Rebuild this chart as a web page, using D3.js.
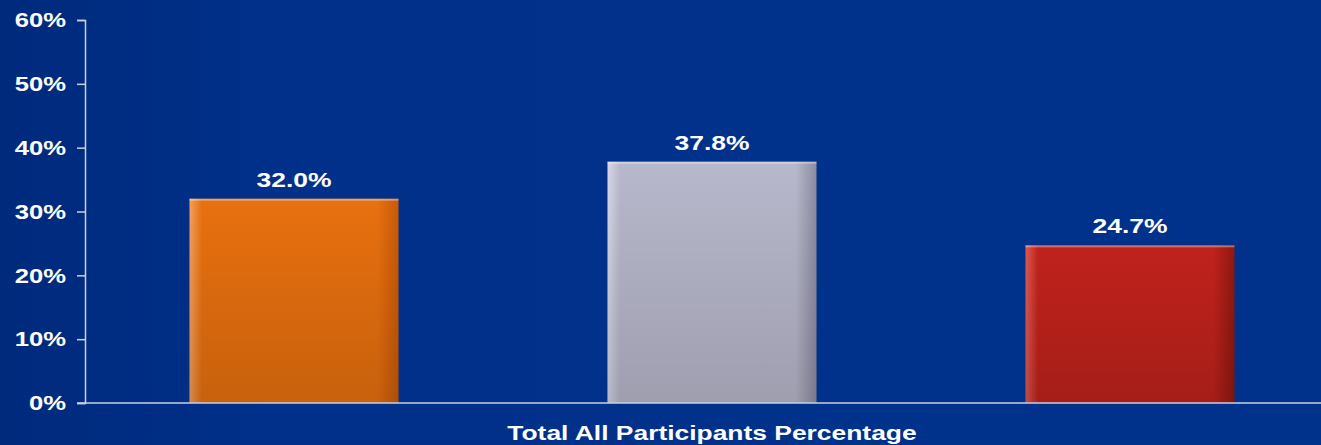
<!DOCTYPE html>
<html>
<head>
<meta charset="utf-8">
<script src="https://cdn.jsdelivr.net/npm/d3@7"></script>
<style>
  html, body { margin: 0; padding: 0; background: #00308a; }
  svg { display: block; }
  text { font-family: "Liberation Sans", Arial, sans-serif; font-weight: bold; fill: #fff; }
</style>
</head>
<body>
<div id="chart"></div>
<script>
// Data
const categories = ["Group A", "Group B", "Group C"];
const values = [32.0, 37.8, 24.7];
const yTicks = [0, 10, 20, 30, 40, 50, 60];
const xTitle = "Total All Participants Percentage";

// Bar colour stops: [left highlight, body, right shade]
const barColors = [
  ["#f5a05a", "#e8700f", "#c85a08"],
  ["#d8d8e8", "#b8b8cc", "#8c8ca0"],
  ["#dd5a50", "#c0221c", "#8e1810"]
];

const W = 1321, H = 445;
const margin = { top: 20, right: 0, bottom: 42, left: 85 };
const height = H - margin.top - margin.bottom;

const svg = d3.select("#chart").append("svg")
  .attr("width", W).attr("height", H);

// the source text is a horizontally stretched bold sans
function stretch(sel, k) {
  sel.each(function () {
    const w = this.getComputedTextLength();
    d3.select(this).attr("textLength", w * k).attr("lengthAdjust", "spacingAndGlyphs");
  });
}

// Background gradient
const defs = svg.append("defs");
const bg = defs.append("linearGradient").attr("id", "bg")
  .attr("x1", 0).attr("x2", 1).attr("y1", 0).attr("y2", 0);
bg.append("stop").attr("offset", "0%").attr("stop-color", "#002a7c");
bg.append("stop").attr("offset", "20%").attr("stop-color", "#00308a");
bg.append("stop").attr("offset", "100%").attr("stop-color", "#00328c");
svg.append("rect").attr("width", W).attr("height", H).attr("fill", "url(#bg)");

barColors.forEach((c, i) => {
  const g = defs.append("linearGradient").attr("id", "bar" + i)
    .attr("x1", 0).attr("x2", 1).attr("y1", 0).attr("y2", 0);
  g.append("stop").attr("offset", "0%").attr("stop-color", c[0]);
  g.append("stop").attr("offset", "6%").attr("stop-color", c[1]);
  g.append("stop").attr("offset", "90%").attr("stop-color", c[1]);
  g.append("stop").attr("offset", "100%").attr("stop-color", c[2]);
});
// vertical shade laid over the bars
const shade = defs.append("linearGradient").attr("id", "shade")
  .attr("x1", 0).attr("x2", 0).attr("y1", 0).attr("y2", 1);
shade.append("stop").attr("offset", "0%").attr("stop-color", "#000").attr("stop-opacity", 0);
shade.append("stop").attr("offset", "100%").attr("stop-color", "#000").attr("stop-opacity", 0.14);

const y = d3.scaleLinear().domain([0, 60]).range([margin.top + height, margin.top]);
const x = d3.scaleBand().domain(categories)
  .range([margin.left, margin.left + 1254])
  .paddingInner(0.5).paddingOuter(0.25);

// Y axis
const yAxis = svg.append("g")
  .attr("transform", `translate(${margin.left},0)`)
  .call(d3.axisLeft(y).tickValues(yTicks).tickFormat(d => d + "%").tickSize(8).tickPadding(11));
yAxis.select(".domain").attr("stroke", "#c8d0e4").attr("stroke-width", 1.5);
yAxis.selectAll(".tick line").attr("stroke", "#c8d0e4").attr("stroke-width", 1.5);
yAxis.selectAll(".tick text").style("font-size", "21px").attr("fill", "#fff").call(stretch, 1.22);

// Bars
svg.selectAll("rect.bar").data(values).enter().append("rect")
  .attr("class", "bar")
  .attr("x", (d, i) => x(categories[i]))
  .attr("y", d => y(d))
  .attr("width", x.bandwidth())
  .attr("height", d => y(0) - y(d))
  .attr("fill", (d, i) => `url(#bar${i})`);

svg.selectAll("rect.shade").data(values).enter().append("rect")
  .attr("class", "shade")
  .attr("x", (d, i) => x(categories[i]))
  .attr("y", d => y(d))
  .attr("width", x.bandwidth())
  .attr("height", d => y(0) - y(d))
  .attr("fill", "url(#shade)");

// top highlight edge
svg.selectAll("rect.edge").data(values).enter().append("rect")
  .attr("class", "edge")
  .attr("x", (d, i) => x(categories[i]))
  .attr("y", d => y(d))
  .attr("width", x.bandwidth())
  .attr("height", 2)
  .attr("fill", "#fff").attr("opacity", 0.35);

// Value labels
svg.selectAll("text.val").data(values).enter().append("text")
  .attr("class", "val")
  .attr("x", (d, i) => x(categories[i]) + x.bandwidth() / 2)
  .attr("y", d => y(d) - 12)
  .attr("text-anchor", "middle")
  .style("font-size", "21px")
  .text(d => d.toFixed(1) + "%")
  .call(stretch, 1.26);

// X axis line
svg.append("line")
  .attr("x1", margin.left - 8).attr("x2", W)
  .attr("y1", y(0)).attr("y2", y(0))
  .attr("stroke", "#c8d0e4").attr("stroke-width", 1.5);

// X title
svg.append("text")
  .attr("x", x(categories[1]) + x.bandwidth() / 2)
  .attr("y", 440)
  .attr("text-anchor", "middle")
  .style("font-size", "20px")
  .text(xTitle)
  .call(stretch, 1.32);
</script>
</body>
</html>
